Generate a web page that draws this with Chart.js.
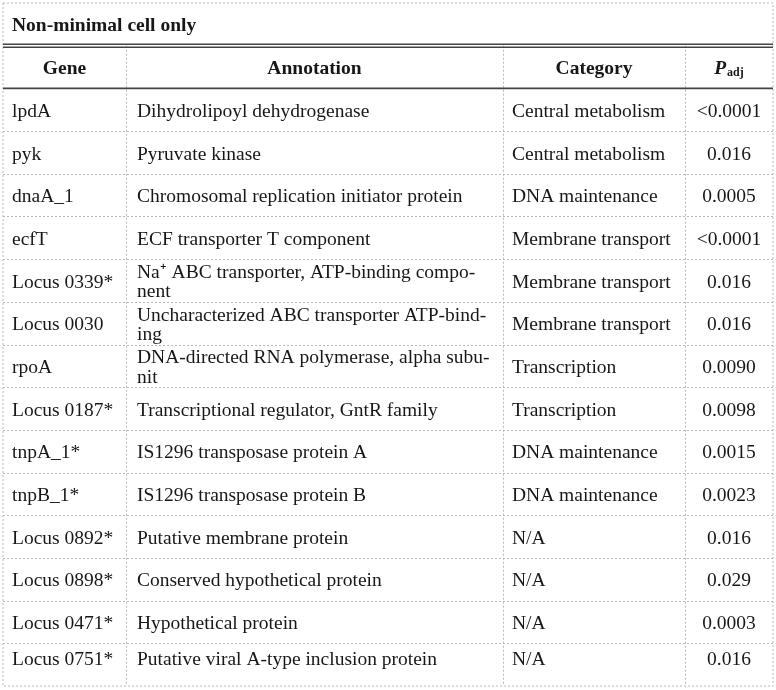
<!DOCTYPE html>
<html>
<head>
<meta charset="utf-8">
<script src="https://cdn.jsdelivr.net/npm/chart.js@4.4.1/dist/chart.umd.min.js"></script>
<style>
    html, body { margin: 0; padding: 0; background: #fff; }
</style>
</head>
<body>
<canvas id="geneTable" width="776" height="690"></canvas>
<script>
const title = 'Non-minimal cell only';
const headers = ['Gene', 'Annotation', 'Category', 'P'];
const genes = ['lpdA', 'pyk', 'dnaA_1', 'ecfT', 'Locus 0339*', 'Locus 0030', 'rpoA',
    'Locus 0187*', 'tnpA_1*', 'tnpB_1*', 'Locus 0892*', 'Locus 0898*', 'Locus 0471*', 'Locus 0751*'];
const annotations = [
    'Dihydrolipoyl dehydrogenase',
    'Pyruvate kinase',
    'Chromosomal replication initiator protein',
    'ECF transporter T component',
    'Na\u207A ABC transporter, ATP-binding compo-\nnent',
    'Uncharacterized ABC transporter ATP-bind-\ning',
    'DNA-directed RNA polymerase, alpha subu-\nnit',
    'Transcriptional regulator, GntR family',
    'IS1296 transposase protein A',
    'IS1296 transposase protein B',
    'Putative membrane protein',
    'Conserved hypothetical protein',
    'Hypothetical protein',
    'Putative viral A-type inclusion protein',
];
const categories = ['Central metabolism', 'Central metabolism', 'DNA maintenance', 'Membrane transport',
    'Membrane transport', 'Membrane transport', 'Transcription', 'Transcription', 'DNA maintenance',
    'DNA maintenance', 'N/A', 'N/A', 'N/A', 'N/A'];
const padj = ['<0.0001', '0.016', '0.0005', '<0.0001', '0.016', '0.016', '0.0090', '0.0098',
    '0.0015', '0.0023', '0.016', '0.029', '0.0003', '0.016'];

// column edges on the x scale; y scale: row 0 = title, row 1 = header, then one unit per gene
const colEdges = [0, 123, 500, 682, 770];
const font = '"Liberation Serif", "Times New Roman", serif';
const fs = 19.5;

const tablePlugin = {
    id: 'geneTable',
    afterDraw(chart) {
        const { ctx, scales: { x, y } } = chart;
        const px = v => x.getPixelForValue(v);
        const py = v => y.getPixelForValue(v);
        const nRows = genes.length;
        const left = px(colEdges[0]), right = px(colEdges[colEdges.length - 1]);
        const top = py(0), bottom = py(nRows + 2);
        const dy = 2; // serif text sits a little low in the original cells

        ctx.save();

        // dashed grey frame + cell borders
        ctx.strokeStyle = '#b9b9b9';
        ctx.lineWidth = 1;
        ctx.setLineDash([2, 2]);
        ctx.strokeRect(left, top, right - left, bottom - top);
        for (let c = 1; c < colEdges.length - 1; c++) {
            ctx.beginPath();
            ctx.moveTo(Math.round(px(colEdges[c])) + 0.5, py(1));
            ctx.lineTo(Math.round(px(colEdges[c])) + 0.5, bottom);
            ctx.stroke();
        }
        for (let r = 3; r < nRows + 2; r++) {
            ctx.beginPath();
            ctx.moveTo(left, Math.round(py(r)) + 0.5);
            ctx.lineTo(right, Math.round(py(r)) + 0.5);
            ctx.stroke();
        }

        // solid rules: double line under the title, single under the header
        ctx.setLineDash([]);
        ctx.strokeStyle = '#444';
        ctx.lineWidth = 1.6;
        [py(1) - 1.5, py(1) + 1.5, py(2)].forEach(yy => {
            ctx.beginPath();
            ctx.moveTo(left, yy);
            ctx.lineTo(right, yy);
            ctx.stroke();
        });

        ctx.fillStyle = '#171717';
        ctx.textBaseline = 'middle';
        const pad = 9;

        // title
        ctx.font = `bold ${fs}px ${font}`;
        ctx.textAlign = 'left';
        ctx.fillText(title, left + pad, (py(0) + py(1)) / 2 + dy);

        // header
        const hy = (py(1) + py(2)) / 2 + dy;
        ctx.textAlign = 'center';
        for (let c = 0; c < 3; c++) {
            ctx.fillText(headers[c], (px(colEdges[c]) + px(colEdges[c + 1])) / 2, hy);
        }
        ctx.font = `italic bold ${fs}px ${font}`;
        const pw = ctx.measureText(headers[3]).width;
        ctx.font = 'bold 12px ' + font;
        const sw = ctx.measureText('adj').width;
        const pcx = (px(colEdges[3]) + px(colEdges[4])) / 2;
        const p0 = pcx - (pw + sw + 1) / 2;
        ctx.textAlign = 'left';
        ctx.font = `italic bold ${fs}px ${font}`;
        ctx.fillText(headers[3], p0, hy);
        ctx.font = 'bold 12px ' + font;
        ctx.fillText('adj', p0 + pw + 1, hy + 4);

        // body
        ctx.font = `${fs}px ${font}`;
        const lineH = 19.5;
        for (let i = 0; i < nRows; i++) {
            // last row sits high in its cell in the original
            const cy = (py(i + 2) + py(i + 3)) / 2 + dy - (i === nRows - 1 ? 7 : 0);
            ctx.textAlign = 'left';
            ctx.fillText(genes[i], px(colEdges[0]) + pad, cy);
            const lines = annotations[i].split('\n');
            lines.forEach((ln, k) => {
                ctx.fillText(ln, px(colEdges[1]) + pad + 2, cy + (k - (lines.length - 1) / 2) * lineH);
            });
            ctx.fillText(categories[i], px(colEdges[2]) + pad, cy);
            ctx.textAlign = 'center';
            ctx.fillText(padj[i], (px(colEdges[3]) + px(colEdges[4])) / 2, cy);
        }
        ctx.restore();
    }
};

new Chart(document.getElementById('geneTable'), {
    type: 'scatter',
    data: { datasets: [] },
    options: {
        responsive: false,
        animation: false,
        layout: { padding: { left: 3, right: 3, top: 3, bottom: 4 } },
        scales: {
            x: { type: 'linear', min: colEdges[0], max: colEdges[colEdges.length - 1], display: false },
            y: { type: 'linear', min: 0, max: genes.length + 2, reverse: true, display: false },
        },
        plugins: {
            legend: { display: false },
            tooltip: { enabled: false },
        },
    },
    plugins: [tablePlugin],
});
</script>
</body>
</html>
